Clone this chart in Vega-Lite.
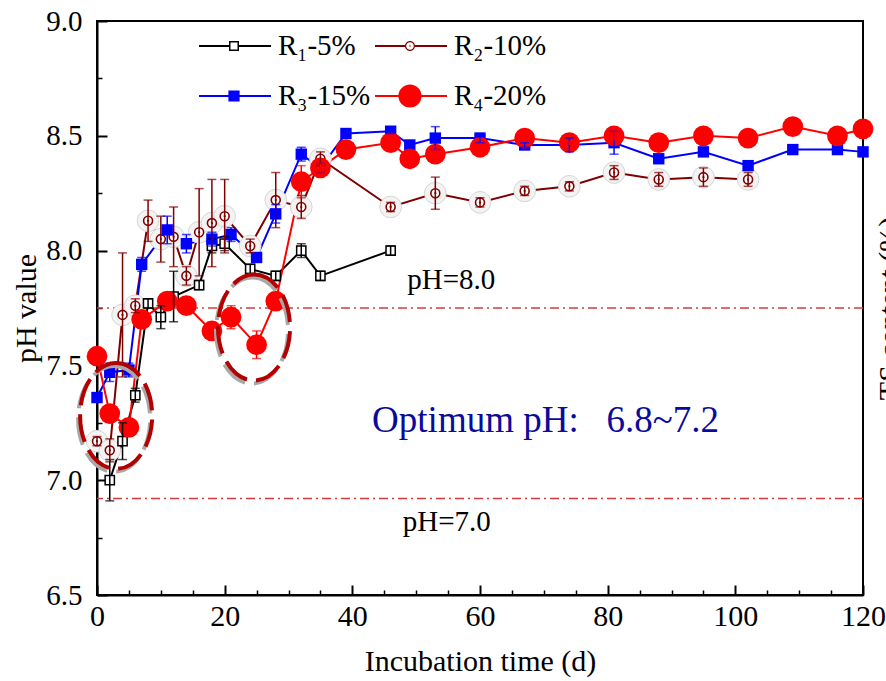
{
 "$schema": "https://vega.github.io/schema/vega-lite/v6.json",
 "width": 766,
 "height": 574,
 "autosize": {"type": "none"},
 "padding": {"left": 97, "top": 21, "right": 23, "bottom": 86},
 "background": "white",
 "config": {
  "view": {"stroke": "black", "strokeWidth": 2},
  "font": "Liberation Serif",
  "axis": {"labelFont": "Liberation Serif", "titleFont": "Liberation Serif", "labelColor": "black", "titleColor": "black", "tickColor": "black", "domainColor": "black", "titleFontWeight": "normal", "grid": false, "domainWidth": 2, "tickWidth": 2}
 },
 "datasets": {
  "ph": [
   {"series": "R1", "day": 2, "ph": 7.00, "err": 0.09},
   {"series": "R1", "day": 4, "ph": 7.17, "err": 0.08},
   {"series": "R1", "day": 6, "ph": 7.37, "err": 0.03},
   {"series": "R1", "day": 8, "ph": 7.77, "err": 0.02},
   {"series": "R1", "day": 10, "ph": 7.71, "err": 0.05},
   {"series": "R1", "day": 12, "ph": 7.80, "err": 0.11},
   {"series": "R1", "day": 16, "ph": 7.85, "err": 0.02},
   {"series": "R1", "day": 18, "ph": 8.02, "err": 0.03},
   {"series": "R1", "day": 20, "ph": 8.03, "err": 0.03},
   {"series": "R1", "day": 24, "ph": 7.92, "err": 0.02},
   {"series": "R1", "day": 28, "ph": 7.89, "err": 0.02},
   {"series": "R1", "day": 32, "ph": 8.00, "err": 0.03},
   {"series": "R1", "day": 35, "ph": 7.89, "err": 0.02},
   {"series": "R1", "day": 46, "ph": 8.00, "err": 0.02},
   {"series": "R2", "day": 0, "ph": 7.17, "err": 0.02},
   {"series": "R2", "day": 2, "ph": 7.13, "err": 0.05},
   {"series": "R2", "day": 4, "ph": 7.72, "err": 0.27},
   {"series": "R2", "day": 6, "ph": 7.76, "err": 0.03},
   {"series": "R2", "day": 8, "ph": 8.13, "err": 0.09},
   {"series": "R2", "day": 10, "ph": 8.05, "err": 0.10},
   {"series": "R2", "day": 12, "ph": 8.06, "err": 0.13},
   {"series": "R2", "day": 14, "ph": 7.89, "err": 0.04},
   {"series": "R2", "day": 16, "ph": 8.08, "err": 0.19},
   {"series": "R2", "day": 18, "ph": 8.12, "err": 0.19},
   {"series": "R2", "day": 20, "ph": 8.15, "err": 0.16},
   {"series": "R2", "day": 24, "ph": 8.02, "err": 0.03},
   {"series": "R2", "day": 28, "ph": 8.22, "err": 0.12},
   {"series": "R2", "day": 32, "ph": 8.19, "err": 0.05},
   {"series": "R2", "day": 35, "ph": 8.40, "err": 0.03},
   {"series": "R2", "day": 46, "ph": 8.19, "err": 0.02},
   {"series": "R2", "day": 53, "ph": 8.25, "err": 0.07},
   {"series": "R2", "day": 60, "ph": 8.21, "err": 0.02},
   {"series": "R2", "day": 67, "ph": 8.26, "err": 0.02},
   {"series": "R2", "day": 74, "ph": 8.28, "err": 0.02},
   {"series": "R2", "day": 81, "ph": 8.34, "err": 0.03},
   {"series": "R2", "day": 88, "ph": 8.31, "err": 0.03},
   {"series": "R2", "day": 95, "ph": 8.32, "err": 0.04},
   {"series": "R2", "day": 102, "ph": 8.31, "err": 0.03},
   {"series": "R3", "day": 0, "ph": 7.36, "err": 0},
   {"series": "R3", "day": 2, "ph": 7.47, "err": 0.04},
   {"series": "R3", "day": 5, "ph": 7.48, "err": 0.03},
   {"series": "R3", "day": 7, "ph": 7.94, "err": 0.03},
   {"series": "R3", "day": 11, "ph": 8.09, "err": 0.06},
   {"series": "R3", "day": 14, "ph": 8.03, "err": 0.04},
   {"series": "R3", "day": 18, "ph": 8.05, "err": 0.03},
   {"series": "R3", "day": 21, "ph": 8.07, "err": 0.03},
   {"series": "R3", "day": 25, "ph": 7.97, "err": 0},
   {"series": "R3", "day": 28, "ph": 8.16, "err": 0.04},
   {"series": "R3", "day": 32, "ph": 8.42, "err": 0.03},
   {"series": "R3", "day": 35, "ph": 8.36, "err": 0.02},
   {"series": "R3", "day": 39, "ph": 8.51, "err": 0},
   {"series": "R3", "day": 46, "ph": 8.52, "err": 0.01},
   {"series": "R3", "day": 49, "ph": 8.46, "err": 0.01},
   {"series": "R3", "day": 53, "ph": 8.49, "err": 0.05},
   {"series": "R3", "day": 60, "ph": 8.49, "err": 0.02},
   {"series": "R3", "day": 67, "ph": 8.46, "err": 0.01},
   {"series": "R3", "day": 74, "ph": 8.46, "err": 0.03},
   {"series": "R3", "day": 81, "ph": 8.47, "err": 0.05},
   {"series": "R3", "day": 88, "ph": 8.40, "err": 0},
   {"series": "R3", "day": 95, "ph": 8.43, "err": 0},
   {"series": "R3", "day": 102, "ph": 8.37, "err": 0},
   {"series": "R3", "day": 109, "ph": 8.44, "err": 0},
   {"series": "R3", "day": 116, "ph": 8.44, "err": 0.01},
   {"series": "R3", "day": 120, "ph": 8.43, "err": 0},
   {"series": "R4", "day": 0, "ph": 7.54, "err": 0},
   {"series": "R4", "day": 2, "ph": 7.29, "err": 0.03},
   {"series": "R4", "day": 5, "ph": 7.23, "err": 0},
   {"series": "R4", "day": 7, "ph": 7.70, "err": 0},
   {"series": "R4", "day": 11, "ph": 7.78, "err": 0},
   {"series": "R4", "day": 14, "ph": 7.76, "err": 0},
   {"series": "R4", "day": 18, "ph": 7.65, "err": 0},
   {"series": "R4", "day": 21, "ph": 7.71, "err": 0.05},
   {"series": "R4", "day": 25, "ph": 7.59, "err": 0.06},
   {"series": "R4", "day": 28, "ph": 7.78, "err": 0},
   {"series": "R4", "day": 32, "ph": 8.30, "err": 0.07},
   {"series": "R4", "day": 35, "ph": 8.36, "err": 0.02},
   {"series": "R4", "day": 39, "ph": 8.44, "err": 0},
   {"series": "R4", "day": 46, "ph": 8.47, "err": 0.02},
   {"series": "R4", "day": 49, "ph": 8.40, "err": 0.01},
   {"series": "R4", "day": 53, "ph": 8.42, "err": 0.02},
   {"series": "R4", "day": 60, "ph": 8.45, "err": 0.01},
   {"series": "R4", "day": 67, "ph": 8.49, "err": 0.01},
   {"series": "R4", "day": 74, "ph": 8.47, "err": 0.01},
   {"series": "R4", "day": 81, "ph": 8.50, "err": 0.02},
   {"series": "R4", "day": 88, "ph": 8.47, "err": 0},
   {"series": "R4", "day": 95, "ph": 8.50, "err": 0},
   {"series": "R4", "day": 102, "ph": 8.49, "err": 0},
   {"series": "R4", "day": 109, "ph": 8.54, "err": 0},
   {"series": "R4", "day": 116, "ph": 8.50, "err": 0.03},
   {"series": "R4", "day": 120, "ph": 8.53, "err": 0}
  ],
  "refs": [{"ph": 7.75}, {"ph": 6.92}],
  "notes": [
   {"day": 48.6, "ph": 7.87, "label": "pH=8.0"},
   {"day": 47.9, "ph": 6.82, "label": "pH=7.0"}
  ],
  "optimum": [{"day": 43.1, "ph": 7.26, "label": "Optimum pH:\u00a0\u00a0\u00a06.8~7.2"}],
  "ovals": [{"day": 3.0, "ph": 7.28}, {"day": 24.6, "ph": 7.665}]
 },
 "layer": [
  {
   "data": {"name": "refs"},
   "mark": {"type": "rule", "stroke": "#d43c3c", "strokeWidth": 1.5, "strokeDash": [9, 4, 2, 4]},
   "encoding": {"y": {"field": "ph", "type": "quantitative", "scale": {"domain": [6.5, 9], "nice": false, "zero": false}, "axis": null}}
  },
  {
   "data": {"name": "notes"},
   "mark": {"type": "text", "align": "left", "baseline": "middle", "font": "Liberation Serif", "fontSize": 29, "color": "black"},
   "encoding": {
    "x": {"field": "day", "type": "quantitative", "scale": {"domain": [0, 120], "nice": false, "zero": false},
      "axis": {"orient": "bottom", "values": [5, 10, 15, 25, 30, 35, 45, 50, 55, 65, 70, 75, 85, 90, 95, 105, 110, 115], "tickSize": -5, "tickWidth": 1.5, "labels": false, "domain": false, "title": null, "grid": false}},
    "y": {"field": "ph", "type": "quantitative", "scale": {"domain": [6.5, 9], "nice": false, "zero": false},
      "axis": {"orient": "left", "values": [6.75, 7.25, 7.75, 8.25, 8.75], "tickSize": -5, "tickWidth": 1.5, "labels": false, "domain": false, "title": null, "grid": false}},
    "text": {"field": "label"}
   }
  },
  {
   "data": {"name": "optimum"},
   "mark": {"type": "text", "align": "left", "baseline": "middle", "font": "Liberation Serif", "fontSize": 37, "color": "#0a0a9e"},
   "encoding": {
    "x": {"field": "day", "type": "quantitative", "axis": null},
    "y": {"field": "ph", "type": "quantitative", "axis": null},
    "text": {"field": "label"}
   }
  },
  {
   "data": {"name": "ph"},
   "mark": {"type": "line", "strokeWidth": 2},
   "encoding": {
    "x": {"field": "day", "type": "quantitative", "scale": {"domain": [0, 120], "nice": false, "zero": false},
      "axis": {"orient": "bottom", "values": [0, 20, 40, 60, 80, 100, 120], "format": "d", "tickSize": -10, "labelFontSize": 30, "labelPadding": 16, "labelFlush": false, "labelOverlap": false, "title": "Incubation time (d)", "titleFontSize": 30, "titlePadding": 15}},
    "y": {"field": "ph", "type": "quantitative", "scale": {"domain": [6.5, 9], "nice": false, "zero": false},
      "axis": {"orient": "left", "values": [6.5, 7, 7.5, 8, 8.5, 9], "format": ".1f", "tickSize": -10, "labelFontSize": 29, "labelPadding": 25, "labelFlush": false, "labelOverlap": false, "title": "pH value", "titleFontSize": 30, "titlePadding": 4}},
    "color": {"field": "series", "type": "nominal",
      "scale": {"domain": ["R1", "R2", "R3", "R4"], "range": ["#000000", "#800000", "#0000ff", "#ff0000"]},
      "legend": {
       "orient": "none", "legendX": 103, "legendY": 5, "direction": "horizontal", "columns": 2, "title": null,
       "labelFontSize": 29, "labelFont": "Liberation Serif", "labelColor": "black",
       "symbolSize": 1600, "symbolStrokeWidth": 0, "labelOffset": 38, "rowPadding": 15, "columnPadding": 4, "padding": 0,
       "labelExpr": "datum.value === 'R1' ? 'R₁-5%' : datum.value === 'R2' ? 'R₂-10%' : datum.value === 'R3' ? 'R₃-15%' : 'R₄-20%'",
       "encode": {"symbols": {"update": {
        "shape": {"signal": "datum.value === 'R1' ? 'M-1.05,-0.05H0.45V0.05H-1.05ZM0.95,-0.05H2.55V0.05H0.95ZM0.45,-0.25H0.95V0.25H0.45ZM0.525,-0.175V0.175H0.875V-0.175Z' : datum.value === 'R2' ? 'M-1.05,-0.05H0.45V0.05H-1.05ZM0.95,-0.05H2.55V0.05H0.95ZM0.45,0A0.25,0.25 0 1,1 0.95,0A0.25,0.25 0 1,1 0.45,0ZM0.51,0A0.19,0.19 0 1,0 0.89,0A0.19,0.19 0 1,0 0.51,0ZM0.66,0A0.04,0.04 0 1,1 0.74,0A0.04,0.04 0 1,1 0.66,0Z' : datum.value === 'R3' ? 'M-1.05,-0.05H2.55V0.05H-1.05ZM0.42,-0.28H0.98V0.28H0.42Z' : 'M-1.05,-0.05H2.55V0.05H-1.05ZM0.12,0A0.58,0.58 0 1,1 1.28,0A0.58,0.58 0 1,1 0.12,0Z'"},
        "strokeWidth": {"value": 0},
        "size": {"value": 1600},
        "opacity": {"value": 1},
        "fillOpacity": {"value": 1}
       }}}
      }}
   }
  },
  {
   "data": {"name": "ph"},
   "transform": [{"filter": "datum.series === 'R2'"}],
   "mark": {"type": "point", "shape": "circle", "filled": true, "fill": "#f3f3f3", "stroke": "#d6d6d6", "strokeWidth": 1, "size": 470, "opacity": 1},
   "encoding": {"x": {"field": "day", "type": "quantitative", "axis": null}, "y": {"field": "ph", "type": "quantitative", "axis": null}}
  },
  {
   "data": {"name": "ph"},
   "transform": [{"filter": "datum.series === 'R1'"}],
   "mark": {"type": "point", "shape": "square", "filled": true, "fill": "white", "stroke": "black", "strokeWidth": 1.5, "size": 85, "opacity": 1},
   "encoding": {"x": {"field": "day", "type": "quantitative", "axis": null}, "y": {"field": "ph", "type": "quantitative", "axis": null}}
  },
  {
   "data": {"name": "ph"},
   "transform": [{"filter": "datum.series === 'R2'"}],
   "mark": {"type": "point", "shape": "circle", "filled": true, "fill": "white", "stroke": "#800000", "strokeWidth": 1.6, "size": 80, "opacity": 1},
   "encoding": {"x": {"field": "day", "type": "quantitative", "axis": null}, "y": {"field": "ph", "type": "quantitative", "axis": null}}
  },
  {
   "data": {"name": "ph"},
   "transform": [{"filter": "datum.series === 'R2'"}],
   "mark": {"type": "point", "shape": "circle", "filled": true, "fill": "#800000", "size": 5, "opacity": 1},
   "encoding": {"x": {"field": "day", "type": "quantitative", "axis": null}, "y": {"field": "ph", "type": "quantitative", "axis": null}}
  },
  {
   "data": {"name": "ph"},
   "transform": [{"filter": "datum.series === 'R3'"}],
   "mark": {"type": "point", "shape": "square", "filled": true, "fill": "#0000ff", "size": 130, "opacity": 1},
   "encoding": {"x": {"field": "day", "type": "quantitative", "axis": null}, "y": {"field": "ph", "type": "quantitative", "axis": null}}
  },
  {
   "data": {"name": "ph"},
   "transform": [{"filter": "datum.series === 'R4'"}],
   "mark": {"type": "point", "shape": "circle", "filled": true, "fill": "#ff0000", "size": 430, "opacity": 1},
   "encoding": {"x": {"field": "day", "type": "quantitative", "axis": null}, "y": {"field": "ph", "type": "quantitative", "axis": null}}
  },
  {
   "data": {"name": "ph"},
   "transform": [{"filter": "datum.err > 0"}],
   "mark": {"type": "errorbar", "ticks": {"size": 9, "thickness": 1.5}, "rule": {"strokeWidth": 1.5}},
   "encoding": {
    "x": {"field": "day", "type": "quantitative", "axis": null},
    "y": {"field": "ph", "type": "quantitative", "axis": null},
    "yError": {"field": "err"},
    "color": {"field": "series", "type": "nominal", "scale": {"domain": ["R1", "R2", "R3", "R4"], "range": ["#000000", "#800000", "#0000ff", "#ff0000"]}, "legend": null}
   }
  },
  {
   "data": {"name": "ovals"},
   "mark": {"type": "point", "shape": "M0,-1A0.68,1 0 1,1 0,1A0.68,1 0 1,1 0,-1Z", "size": 11236, "filled": false, "stroke": "#a8a8a8", "strokeWidth": 4, "strokeDash": [28, 9], "opacity": 1, "xOffset": -2, "yOffset": 3},
   "encoding": {"x": {"field": "day", "type": "quantitative", "axis": null}, "y": {"field": "ph", "type": "quantitative", "axis": null}}
  },
  {
   "data": {"name": "ovals"},
   "mark": {"type": "point", "shape": "M0,-1A0.68,1 0 1,1 0,1A0.68,1 0 1,1 0,-1Z", "size": 11236, "filled": false, "stroke": "#b40000", "strokeWidth": 4, "strokeDash": [28, 9], "opacity": 1},
   "encoding": {
    "x": {"field": "day", "type": "quantitative", "axis": null},
    "y": {"field": "ph", "type": "quantitative",
      "axis": {"orient": "right", "title": "TS content (%)", "titleAngle": 270, "titleBaseline": "top", "titlePadding": 11, "titleFontSize": 30, "ticks": false, "labels": false, "domain": false, "grid": false}}
   }
  }
 ],
 "resolve": {"axis": {"x": "independent", "y": "independent"}}
}
